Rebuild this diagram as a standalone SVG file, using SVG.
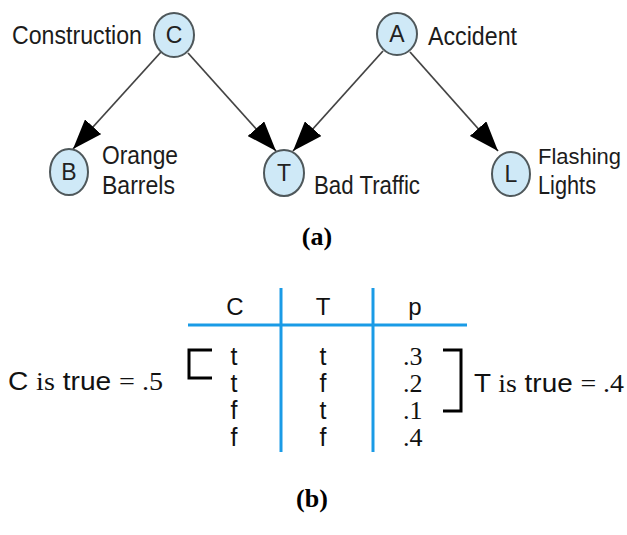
<svg xmlns="http://www.w3.org/2000/svg" width="627" height="535" viewBox="0 0 627 535">
  <style>
    .node ellipse { fill: #cfe9f7; stroke: #4f585b; stroke-width: 2; }
    .node text { font-family: "Liberation Sans", Arial, sans-serif; font-size: 23px; fill: #222; text-anchor: middle; }
    .lbl { font-family: "Liberation Sans Narrow", "Liberation Sans", Arial, sans-serif; font-size: 25px; fill: #1c1c1c; }
    .lbl.tight { font-size: 22px; }
    .edge { stroke: #444; stroke-width: 1.8; fill: none; marker-end: url(#arrow); }
    .cap { font-family: "Liberation Serif", "Times New Roman", serif; font-weight: bold; font-size: 26px; fill: #000; text-anchor: middle; }
    .grid { stroke: #1a9be6; stroke-width: 3; fill: none; }
    .bracket { stroke: #000; stroke-width: 3; fill: none; }
    .hd { font-family: "Liberation Sans", Arial, sans-serif; font-size: 24px; fill: #111; text-anchor: middle; }
    .cell { font-family: "Liberation Sans", Arial, sans-serif; font-size: 25px; fill: #111; text-anchor: middle; }
    .num { font-family: "Liberation Serif", "Times New Roman", serif; font-size: 26px; fill: #111; }
    .eq { font-family: "Liberation Sans", Arial, sans-serif; font-size: 26px; fill: #111; }
    .eq .s { font-family: "Liberation Serif", "Times New Roman", serif; }
  </style>
  <defs>
    <marker id="arrow" viewBox="0 0 10 10" refX="10" refY="5" markerUnits="userSpaceOnUse" markerWidth="30" markerHeight="22" orient="auto" preserveAspectRatio="none">
      <path d="M0,0 L10,5 L0,10 z" fill="#000"/>
    </marker>
  </defs>
  <rect width="627" height="535" fill="#fff"/>

  <!-- (a) network -->
  <g id="connectors">
    <line class="edge" x1="161" y1="52" x2="73" y2="149"/>
    <line class="edge" x1="188" y1="53" x2="276" y2="151"/>
    <line class="edge" x1="383" y1="51" x2="293" y2="151"/>
    <line class="edge" x1="410" y1="52" x2="498" y2="151"/>
  </g>

  <g id="node-C" class="node">
    <ellipse cx="174" cy="35" rx="20" ry="22"/>
    <text x="174" y="43">C</text>
  </g>
  <g id="node-A" class="node">
    <ellipse cx="397" cy="34" rx="20" ry="21"/>
    <text x="397" y="42">A</text>
  </g>
  <g id="node-B" class="node">
    <ellipse cx="69" cy="172" rx="19" ry="23"/>
    <text x="69" y="180">B</text>
  </g>
  <g id="node-T" class="node">
    <ellipse cx="284" cy="173" rx="20" ry="23"/>
    <text x="284" y="181">T</text>
  </g>
  <g id="node-L" class="node">
    <ellipse cx="511" cy="174" rx="19" ry="22"/>
    <text x="511" y="182">L</text>
  </g>

  <g id="labels">
    <text class="lbl" x="12" y="44" textLength="130" lengthAdjust="spacingAndGlyphs">Construction</text>
    <text class="lbl" x="428" y="45" textLength="89" lengthAdjust="spacingAndGlyphs">Accident</text>
    <text class="lbl" x="102" y="164" textLength="76" lengthAdjust="spacingAndGlyphs">Orange</text>
    <text class="lbl" x="102" y="194" textLength="73" lengthAdjust="spacingAndGlyphs">Barrels</text>
    <text class="lbl" x="314" y="194" textLength="106" lengthAdjust="spacingAndGlyphs">Bad Traffic</text>
    <text class="lbl tight" x="538" y="164" textLength="83" lengthAdjust="spacingAndGlyphs">Flashing</text>
    <text class="lbl" x="538" y="194" textLength="58" lengthAdjust="spacingAndGlyphs">Lights</text>
  </g>

  <text class="cap" x="317" y="245">(a)</text>

  <!-- (b) joint table -->
  <g id="table">
    <line class="grid" x1="188" y1="325" x2="467" y2="325"/>
    <line class="grid" x1="281" y1="288" x2="281" y2="452"/>
    <line class="grid" x1="373" y1="288" x2="373" y2="452"/>

    <text class="hd" x="235" y="315">C</text>
    <text class="hd" x="323" y="315">T</text>
    <text class="hd" x="415" y="315">p</text>

    <text class="cell" x="234" y="365">t</text>
    <text class="cell" x="234" y="392">t</text>
    <text class="cell" x="234" y="419">f</text>
    <text class="cell" x="234" y="446">f</text>

    <text class="cell" x="323" y="365">t</text>
    <text class="cell" x="323" y="392">f</text>
    <text class="cell" x="323" y="419">t</text>
    <text class="cell" x="323" y="446">f</text>

    <text class="num" x="403" y="365">.3</text>
    <text class="num" x="403" y="392">.2</text>
    <text class="num" x="403" y="419">.1</text>
    <text class="num" x="403" y="446">.4</text>

    <path class="bracket" d="M212,350 H189 V378 H212"/>
    <path class="bracket" d="M443,350 H461 V411 H443"/>

    <text class="eq" x="8" y="390" textLength="155" lengthAdjust="spacingAndGlyphs">C <tspan class="s">is</tspan> true <tspan class="s">= .5</tspan></text>
    <text class="eq" x="474" y="392" textLength="150" lengthAdjust="spacingAndGlyphs">T <tspan class="s">is</tspan> true <tspan class="s">= .4</tspan></text>
  </g>

  <text class="cap" x="312" y="507">(b)</text>
</svg>
